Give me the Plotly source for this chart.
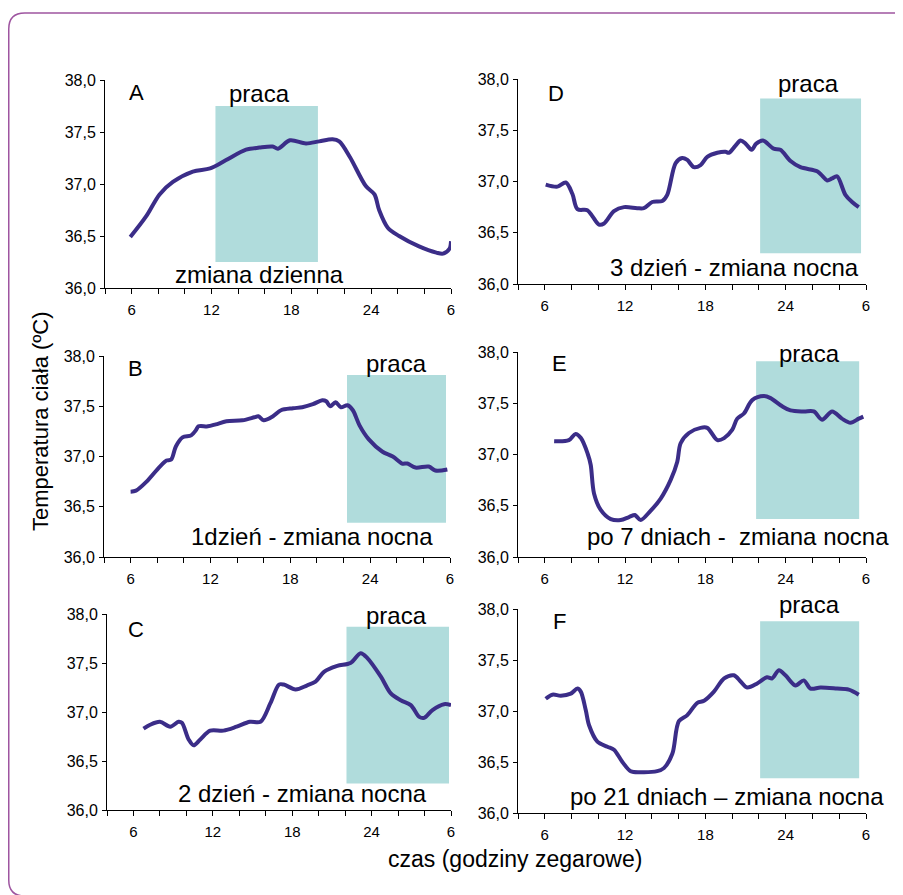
import plotly.graph_objects as go

W, H = 903, 895

# ---------------- data (hour of day, body temperature) ----------------
hours_A = [5.9, 7.1, 8.1, 9.1, 10.6, 11.9, 13.1, 14.6, 15.6, 16.6, 17.0, 17.9, 19.1, 20.1, 21.1, 21.6,
           22.4, 23.6, 24.25, 24.6, 25.25, 26.1, 27.6, 28.9, 29.4, 29.9, 30.0]
temp_A = [36.49, 36.69, 36.9, 37.02, 37.12, 37.15, 37.23, 37.33, 37.35, 37.36, 37.34, 37.42, 37.39, 37.41,
          37.43, 37.41, 37.26, 36.98, 36.9, 36.75, 36.58, 36.5, 36.4, 36.34, 36.33, 36.38, 36.45]

hours_B = [6.0, 6.4, 7.2, 8.2, 8.7, 9.05, 9.4, 9.9, 10.55, 10.9, 11.1, 11.8, 12.4, 13.2, 14.4, 15.3, 15.6,
           16.0, 16.7, 17.3, 18.2, 18.9, 19.7, 20.4, 20.7, 21.0, 21.4, 21.8, 22.3, 22.7, 23.2, 23.9, 24.9,
           25.7, 26.4, 26.8, 27.4, 28.4, 28.9, 29.8]
temp_B = [36.65, 36.66, 36.75, 36.9, 36.96, 36.97, 37.1, 37.19, 37.21, 37.26, 37.3, 37.3, 37.32, 37.35,
          37.36, 37.39, 37.4, 37.36, 37.4, 37.46, 37.48, 37.49, 37.52, 37.56, 37.55, 37.5, 37.54, 37.49,
          37.51, 37.46, 37.31, 37.17, 37.05, 37.0, 36.93, 36.93, 36.89, 36.9, 36.86, 36.87]

hours_C = [6.76, 7.26, 8.0, 8.78, 9.4, 9.66, 10.17, 10.55, 11.05, 11.8, 12.8, 13.8, 14.8, 15.6, 16.35, 17.0,
           17.36, 18.25, 19.1, 19.76, 20.4, 21.4, 22.4, 23.17, 23.68, 24.7, 25.45, 26.2, 26.96, 27.6,
           27.97, 28.6, 29.48, 30.0]
temp_C = [36.83, 36.87, 36.9, 36.85, 36.9, 36.89, 36.72, 36.66, 36.72, 36.81, 36.81, 36.85, 36.9, 36.9,
          37.09, 37.28, 37.28, 37.23, 37.27, 37.31, 37.41, 37.47, 37.5, 37.6, 37.55, 37.36, 37.19, 37.12,
          37.07, 36.95, 36.94, 37.02, 37.08, 37.07]

hours_D = [6.07, 6.95, 7.57, 8.06, 8.44, 9.18, 9.56, 10.05, 10.43, 11.17, 11.92, 12.9, 13.4, 14.03, 14.78,
           15.15, 15.78, 16.27, 16.65, 17.14, 17.64, 18.14, 18.89, 19.5, 19.76, 20.25, 20.63, 21.0, 21.45,
           21.8, 22.3, 23.1, 23.6, 24.36, 25.1, 26.35, 26.7, 27.1, 27.47, 27.84, 28.46, 28.96, 29.46]
temp_D = [36.97, 36.95, 36.99, 36.88, 36.73, 36.72, 36.66, 36.58, 36.59, 36.71, 36.75, 36.74, 36.74, 36.8,
          36.81, 36.87, 37.18, 37.23, 37.21, 37.14, 37.16, 37.24, 37.28, 37.29, 37.28, 37.35, 37.4, 37.37,
          37.31, 37.37, 37.4, 37.32, 37.31, 37.2, 37.14, 37.1, 37.06, 37.01, 37.03, 37.05, 36.87, 36.8,
          36.75]

hours_E = [6.7, 7.8, 8.3, 8.7, 9.2, 9.43, 9.68, 10.18, 10.93, 11.67, 12.29, 12.74, 12.9, 13.16, 13.9, 14.66,
           15.4, 15.9, 16.15, 16.77, 17.64, 18.14, 18.9, 19.4, 20.0, 20.38, 20.88, 21.5, 22.37, 22.87,
           23.74, 24.36, 25.35, 26.1, 26.72, 27.47, 28.2, 28.84, 29.46, 29.8]
temp_E = [37.13, 37.14, 37.2, 37.16, 37.01, 36.9, 36.62, 36.46, 36.37, 36.36, 36.39, 36.41, 36.39, 36.36,
          36.45, 36.57, 36.75, 36.93, 37.11, 37.21, 37.26, 37.26, 37.14, 37.16, 37.24, 37.35, 37.4, 37.53,
          37.57, 37.55, 37.47, 37.43, 37.42, 37.42, 37.34, 37.42, 37.35, 37.31, 37.35, 37.37]

hours_F = [6.07, 6.57, 7.2, 7.94, 8.44, 8.69, 9.06, 9.31, 9.93, 10.68, 11.17, 11.8, 12.42, 13.16, 14.4, 14.9,
           15.53, 16.02, 16.65, 17.4, 17.9, 18.64, 19.4, 20.13, 20.63, 21.12, 21.87, 22.6, 22.99, 23.49,
           23.98, 24.73, 25.35, 25.85, 26.6, 27.84, 28.71, 29.46]
temp_F = [37.12, 37.16, 37.15, 37.17, 37.22, 37.19, 37.01, 36.86, 36.7, 36.65, 36.62, 36.5, 36.41, 36.4,
          36.41, 36.44, 36.58, 36.9, 36.96, 37.08, 37.1, 37.19, 37.32, 37.35, 37.29, 37.23, 37.27, 37.33,
          37.32, 37.4, 37.35, 37.25, 37.3, 37.22, 37.23, 37.22, 37.21, 37.16]

# work ("praca") periods: [start hour, end hour, lower temp, upper temp]
work_A = [12.3, 20.0, 36.25, 37.75]
work_B = [22.26, 29.7, 36.34, 37.81]
work_C = [22.1, 29.85, 36.27, 37.87]
work_D = [22.09, 29.63, 36.30, 37.81]
work_E = [21.79, 29.49, 36.37, 37.91]
work_F = [22.09, 29.49, 36.34, 37.88]

panel_letters = ["A", "B", "C", "D", "E", "F"]
shift_labels = ["zmiana dzienna", "1dzień - zmiana nocna", "2 dzień - zmiana nocna",
                "3 dzień - zmiana nocna", "po 7 dniach -  zmiana nocna", "po 21 dniach – zmiana nocna"]
work_label = "praca"

x_tick_vals = [4, 6, 8, 10, 12, 14, 16, 18, 20, 22, 24, 26, 28, 30]
x_tick_text = ["", "6", "", "", "12", "", "", "18", "", "", "24", "", "", "6"]
y_tick_vals = [36.0, 36.5, 37.0, 37.5, 38.0]
y_tick_text = ["36,0", "36,5", "37,0", "37,5", "38,0"]

y_title = "Temperatura ciała (ºC)"
x_title = "czas (godziny zegarowe)"

# ---------------- layout ----------------
LINE = "#3b2d88"
SHADE = "#b0dcdc"
FONT = "Liberation Sans, Arial, sans-serif"
OFF = 8  # page body margin: figure pixel = page pixel - OFF
Y_LO, Y_HI = 36.0, 38.0


def X(px):
    return (px - OFF) / W


def Y(py):
    return 1 - (py - OFF) / H


def dom(t):
    # temperature -> fraction of the y-axis domain
    return (t - Y_LO) / (Y_HI - Y_LO)


# page-pixel boxes of each plot area: (left, right, top, bottom)
boxes = [(105, 451, 80, 288), (104, 450, 356, 557), (107, 451, 614, 810),
         (518, 866, 79, 284), (518, 866, 352, 557), (518, 866, 609, 813)]
# annotation positions (hour, temperature): letter, praca, shift label
letter_pos = [(6.35, 37.88), (6.4, 37.88), (6.2, 37.84), (6.84, 37.86), (7.1, 37.89), (7.1, 37.88)]
praca_pos = [(15.6, 37.87), (26.0, 37.93), (25.9, 37.98), (25.7, 37.96), (25.8, 37.99), (25.75, 38.04)]
shift_pos = [(15.6, 36.13), (19.6, 36.2), (18.8, 36.17), (20.2, 36.16), (20.4, 36.2), (19.6, 36.16)]

series = [(hours_A, temp_A), (hours_B, temp_B), (hours_C, temp_C),
          (hours_D, temp_D), (hours_E, temp_E), (hours_F, temp_F)]
works = [work_A, work_B, work_C, work_D, work_E, work_F]

fig = go.Figure()
layout = dict(width=W, height=H, margin=dict(l=0, r=0, t=0, b=0, pad=0, autoexpand=False),
              autosize=False,
              paper_bgcolor="white", plot_bgcolor="white", showlegend=False,
              font=dict(family=FONT, color="black"))
shapes = []
annotations = []

for i, ((hx, ty), wk, box) in enumerate(zip(series, works, boxes)):
    n = "" if i == 0 else str(i + 1)
    xa, ya = "x" + n, "y" + n
    fig.add_trace(go.Scatter(x=hx, y=ty, mode="lines", xaxis=xa, yaxis=ya,
                             line=dict(color=LINE, width=4, shape="spline", smoothing=0.9),
                             hoverinfo="skip"))
    l, r, t, b = box
    layout["xaxis" + n] = dict(domain=[X(l), X(r)], range=[4, 30], anchor=ya,
                               tickmode="array", tickvals=x_tick_vals, ticktext=x_tick_text,
                               ticks="outside", ticklen=5, tickwidth=1, tickcolor="black",
                               showline=True, linecolor="black", linewidth=1, showgrid=False,
                               zeroline=False, ticklabelstandoff=3, automargin=False,
                               tickfont=dict(size=15, family=FONT, color="black"), fixedrange=True)
    layout["yaxis" + n] = dict(domain=[Y(b), Y(t)], range=[Y_LO, Y_HI], anchor=xa,
                               tickmode="array", tickvals=y_tick_vals, ticktext=y_tick_text,
                               ticks="outside", ticklen=4, tickwidth=1, tickcolor="black",
                               showline=True, linecolor="black", linewidth=1, showgrid=False,
                               zeroline=False, ticklabelstandoff=1, automargin=False,
                               tickfont=dict(size=16, family=FONT, color="black"), fixedrange=True)
    shapes.append(dict(type="rect", xref=xa, yref=ya, x0=wk[0], x1=wk[1], y0=wk[2], y1=wk[3],
                       fillcolor=SHADE, line=dict(width=0), layer="below"))
    yd = ya + " domain"
    annotations.append(dict(xref=xa, yref=yd, x=letter_pos[i][0], y=dom(letter_pos[i][1]),
                            xanchor="center", yanchor="middle",
                            text=panel_letters[i], showarrow=False, font=dict(size=22)))
    annotations.append(dict(xref=xa, yref=yd, x=praca_pos[i][0], y=dom(praca_pos[i][1]),
                            xanchor="center", yanchor="middle",
                            text=work_label, showarrow=False, font=dict(size=24)))
    annotations.append(dict(xref=xa, yref=yd, x=shift_pos[i][0], y=dom(shift_pos[i][1]),
                            xanchor="center", yanchor="middle",
                            text=shift_labels[i], showarrow=False, font=dict(size=24)))

annotations.append(dict(xref="paper", yref="paper", x=X(40), y=Y(421), text=y_title,
                        xanchor="center", yanchor="middle",
                        textangle=-90, showarrow=False, font=dict(size=22)))
annotations.append(dict(xref="paper", yref="paper", x=X(515), y=Y(859), text=x_title,
                        xanchor="center", yanchor="middle",
                        showarrow=False, font=dict(size=23)))

# rounded outer frame (kept inside the paper)
Lf, Tf, Rf, Bf, rad = 8.75, 13, 910, 896, 16
path = (f"M {X(Lf)},{Y(Bf - rad)} L {X(Lf)},{Y(Tf + rad)} Q {X(Lf)},{Y(Tf)} {X(Lf + rad)},{Y(Tf)} "
        f"L {X(Rf - rad)},{Y(Tf)} Q {X(Rf)},{Y(Tf)} {X(Rf)},{Y(Tf + rad)} "
        f"L {X(Rf)},{Y(Bf - rad)} Q {X(Rf)},{Y(Bf)} {X(Rf - rad)},{Y(Bf)} "
        f"L {X(Lf + rad)},{Y(Bf)} Q {X(Lf)},{Y(Bf)} {X(Lf)},{Y(Bf - rad)} Z")
shapes.append(dict(type="path", xref="paper", yref="paper", path=path,
                   line=dict(color="#9e55a0", width=1.5), layer="below"))

layout["shapes"] = shapes
layout["annotations"] = annotations
fig.update_layout(**layout)
fig.write_html("out.html")
